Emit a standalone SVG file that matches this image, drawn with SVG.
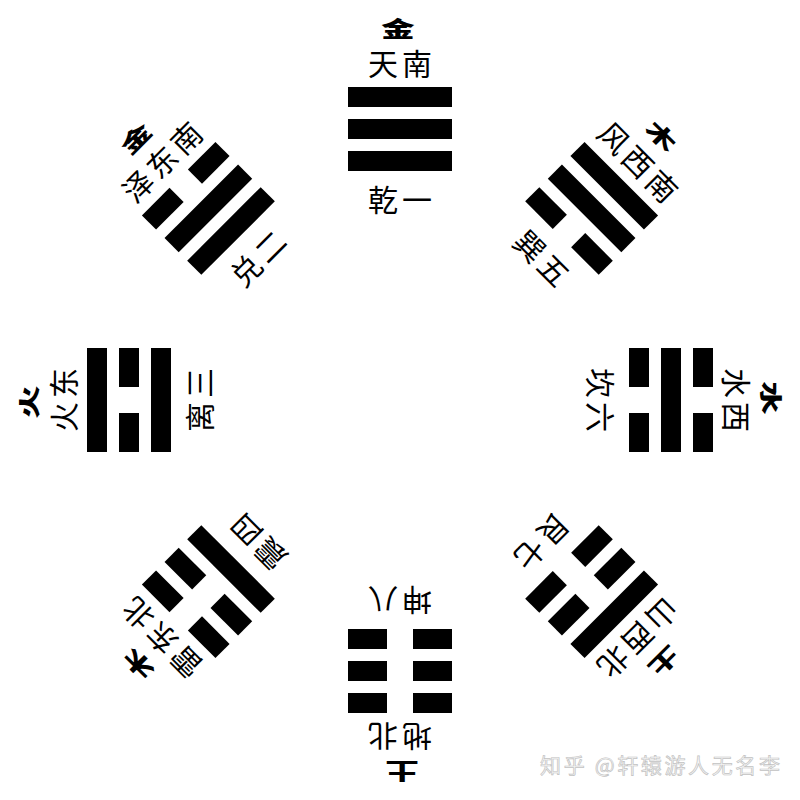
<svg xmlns="http://www.w3.org/2000/svg" xmlns:xlink="http://www.w3.org/1999/xlink" width="800" height="800" viewBox="0 0 800 800">
<style>
.bar{fill:#000}
.el{font-family:"Noto Sans CJK SC","Noto Sans CJK TC",sans-serif;font-weight:900;font-size:29px;text-anchor:middle;dominant-baseline:central;fill:#000}
.lb{font-family:"Noto Sans CJK SC","Noto Sans CJK TC",sans-serif;font-weight:400;font-size:30px;letter-spacing:4px;text-anchor:middle;dominant-baseline:central;fill:#000}
.wm{font-family:"Noto Sans CJK SC",sans-serif;font-size:21px;fill:#f6f6f6;stroke:#c2c2c2;stroke-width:0.7}
</style>
<defs>
<rect id="S" class="bar" x="348" y="0" width="104" height="20"/>
<g id="B"><rect class="bar" x="348" y="0" width="39" height="20"/><rect class="bar" x="413" y="0" width="39" height="20"/></g>
</defs>
<rect width="800" height="800" fill="#fff"/>
<g id="qian">
<use xlink:href="#S" y="87"/><use xlink:href="#S" y="119"/><use xlink:href="#S" y="151"/>
<text class="el" transform="translate(398,27) scale(1.15,0.75)">金</text>
<text class="lb" x="402" y="62">天南</text>
<text class="lb" x="402" y="198">乾一</text>
</g>
<g id="xun" transform="rotate(45 400 400)">
<use xlink:href="#S" y="87"/><use xlink:href="#S" y="119"/><use xlink:href="#B" y="151"/>
<text class="el" transform="translate(398,27) scale(1.15,0.75)">木</text>
<text class="lb" x="402" y="62">风西南</text>
<text class="lb" x="402" y="198">巽五</text>
</g>
<g id="kan" transform="rotate(90 400 400)">
<use xlink:href="#B" y="87"/><use xlink:href="#S" y="119"/><use xlink:href="#B" y="151"/>
<text class="el" transform="translate(398,27) scale(1.15,0.75)">水</text>
<text class="lb" x="402" y="62">水西</text>
<text class="lb" x="402" y="198">坎六</text>
</g>
<g id="gen" transform="rotate(135 400 400)">
<use xlink:href="#S" y="87"/><use xlink:href="#B" y="119"/><use xlink:href="#B" y="151"/>
<text class="el" transform="translate(398,27) scale(1.15,0.75)">土</text>
<text class="lb" x="402" y="62">山西北</text>
<text class="lb" x="402" y="198">艮七</text>
</g>
<g id="kun" transform="rotate(180 400 400)">
<use xlink:href="#B" y="87"/><use xlink:href="#B" y="119"/><use xlink:href="#B" y="151"/>
<text class="el" transform="translate(398,27) scale(1.15,0.75)">土</text>
<text class="lb" x="402" y="62">地北</text>
<text class="lb" x="402" y="198">坤八</text>
</g>
<g id="zhen" transform="rotate(225 400 400)">
<use xlink:href="#B" y="87"/><use xlink:href="#B" y="119"/><use xlink:href="#S" y="151"/>
<text class="el" transform="translate(398,27) scale(1.15,0.75)">木</text>
<text class="lb" x="402" y="62">雷东北</text>
<text class="lb" x="402" y="198">震四</text>
</g>
<g id="li" transform="rotate(270 400 400)">
<use xlink:href="#S" y="87"/><use xlink:href="#B" y="119"/><use xlink:href="#S" y="151"/>
<text class="el" transform="translate(398,27) scale(1.15,0.75)">火</text>
<text class="lb" x="402" y="62">火东</text>
<text class="lb" x="402" y="198">离三</text>
</g>
<g id="dui" transform="rotate(315 400 400)">
<use xlink:href="#B" y="87"/><use xlink:href="#S" y="119"/><use xlink:href="#S" y="151"/>
<text class="el" transform="translate(398,27) scale(1.15,0.75)">金</text>
<text class="lb" x="402" y="62">泽东南</text>
<text class="lb" x="402" y="198">兑二</text>
</g>
<g id="connectors"></g>
<text class="wm" x="540" y="773" textLength="240" lengthAdjust="spacing">知乎 @轩辕游人无名李</text>
</svg>
